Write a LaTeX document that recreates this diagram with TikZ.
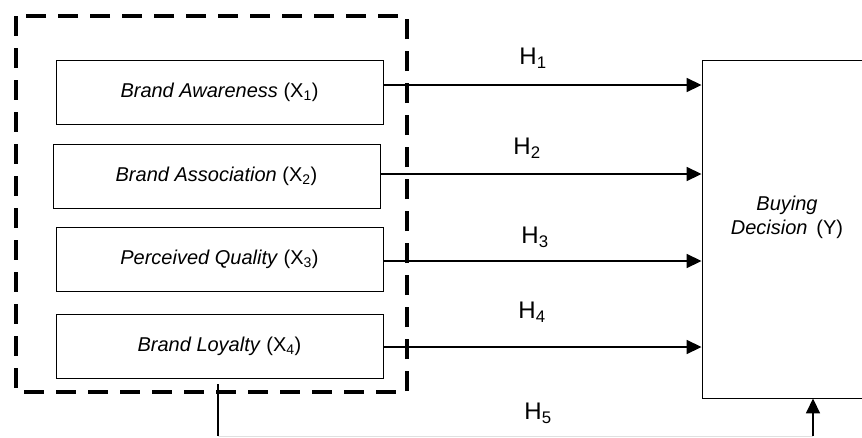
\documentclass[tikz,border=0pt]{standalone}
\usepackage{fontspec}
\setmainfont{Liberation Sans}
\usetikzlibrary{arrows.meta}
\tikzset{
  varbox/.style={draw, line width=0.9pt, minimum width=327pt, minimum height=64pt, inner sep=0pt,
    font=\fontsize{20}{24}\selectfont},
  arr/.style={line width=1.7pt, -{Triangle[length=15pt,width=14pt]}},
  hlab/.style={font=\fontsize{24}{28}\selectfont, inner sep=0pt},
  groupbox/.style={draw, line width=4pt, dash pattern=on 20pt off 12pt},
}
\begin{document}
\begin{tikzpicture}[x=1pt,y=-1pt]
\useasboundingbox (0,0) rectangle (862,437);
\clip (0,0) rectangle (862,437);
\fill[white] (0,0) rectangle (862,437);
% group box
\draw[groupbox] (16,16) rectangle (407,392);
% variable boxes
\node[varbox] (b1) at (219.5,92.5) {\textit{Brand Awareness} (X\textsubscript{1})};
\node[varbox] (b2) at (216.5,176) {\textit{Brand Association} (X\textsubscript{2})};
\node[varbox] (b3) at (219.5,259.5) {\textit{Perceived Quality} (X\textsubscript{3})};
\node[varbox] (b4) at (219.5,346) {\textit{Brand Loyalty} (X\textsubscript{4})};
% dependent box (extends past right edge)
\node[draw, line width=0.9pt, minimum width=190pt, minimum height=338pt, inner sep=0pt] (yb) at (797,229) {};
\node[align=center, font=\fontsize{20}{24}\selectfont, inner sep=0pt] (ytxt) at (787,217) {\textit{Buying}\\\textit{Decision}\, (Y)};
% arrows
\draw[arr] ([yshift=7.5pt]b1.east) -- ([yshift=7.5pt]b1.east -| yb.west);
\draw[arr] ([yshift=2pt]b2.east) -- ([yshift=2pt]b2.east -| yb.west);
\draw[arr] ([yshift=-1.5pt]b3.east) -- ([yshift=-1.5pt]b3.east -| yb.west);
\draw[arr] ([yshift=-1pt]b4.east) -- ([yshift=-1pt]b4.east -| yb.west);
% H5 path
\coordinate (h5a) at (218,436);
\coordinate (h5b) at (813,436);
\draw[line width=1.7pt] (b4.south -| h5a) ++(0,6) -- (h5a);
\draw[line width=1pt, black!12] (h5a) -- (h5b);
\draw[arr] (h5b) -- (h5b |- yb.south);
% labels
\node[hlab] (h1) at (533,58) {H\textsubscript{1}};
\node[hlab] (h2) at (527,148) {H\textsubscript{2}};
\node[hlab] (h3) at (535,237) {H\textsubscript{3}};
\node[hlab] (h4) at (532,312) {H\textsubscript{4}};
\node[hlab] (h5) at (538,413) {H\textsubscript{5}};
\end{tikzpicture}
\end{document}
